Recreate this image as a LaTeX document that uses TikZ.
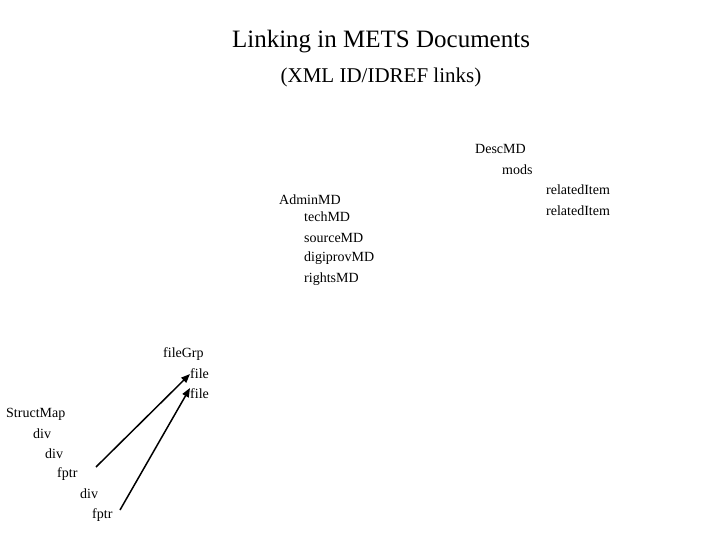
\documentclass[tikz,border=0pt]{standalone}
\usepackage{fontspec}
\setmainfont{Liberation Serif}
\usetikzlibrary{arrows.meta}
\begin{document}
\begin{tikzpicture}[x=1pt,y=-1pt,
  lbl/.style={anchor=west,inner sep=0pt,font=\fontsize{14}{16}\selectfont},
  arr/.style={line width=1.5pt,-{Triangle[length=9pt,width=7pt]}}]
\useasboundingbox (0,0) rectangle (720,540);
\node[font=\fontsize{25}{28}\selectfont] (t1) at (381,42) {Linking in METS Documents};
\node[font=\fontsize{21}{24}\selectfont] (t2) at (381,77) {(XML ID/IDREF links)};
\node[lbl] (desc) at (475,149) {DescMD};
\node[lbl] (mods) at (502,170) {mods};
\node[lbl] (r1) at (546,190) {relatedItem};
\node[lbl] (r2) at (546,211) {relatedItem};
\node[lbl] (adm) at (279,200) {AdminMD};
\node[lbl] (tech) at (304,217) {techMD};
\node[lbl] (src) at (304,238) {sourceMD};
\node[lbl] (dig) at (304,258) {digiprovMD};
\node[lbl] (rig) at (304,279) {rightsMD};
\node[lbl] (fg) at (163,354) {fileGrp};
\node[lbl] (f1) at (190,374) {file};
\node[lbl] (f2) at (190,394) {file};
\node[lbl] (sm) at (6,414) {StructMap};
\node[lbl] (d1) at (33,434) {div};
\node[lbl] (d2) at (45,454) {div};
\node[lbl] (p1) at (57,474) {fptr};
\node[lbl] (d3) at (80,494) {div};
\node[lbl] (p2) at (92,515) {fptr};
\coordinate (a1) at (96,467);
\coordinate (a2) at (120,510);
\draw[arr] (a1) -- (f1.west);
\draw[arr] (a2) -- ([yshift=6pt]f2.west);
\end{tikzpicture}
\end{document}
